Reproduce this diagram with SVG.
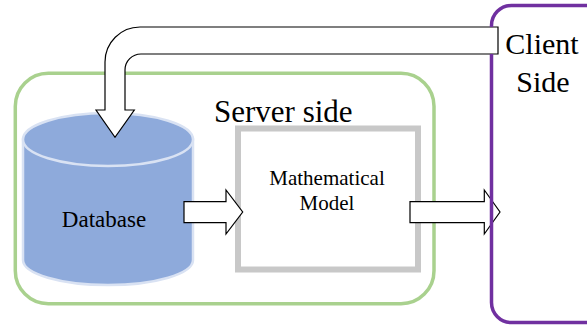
<svg xmlns="http://www.w3.org/2000/svg" width="587" height="326" viewBox="0 0 587 326">
<style>
text{font-family:"Liberation Serif","Times New Roman",serif;fill:#000}
.arrow{fill:#fff;stroke:#000;stroke-width:1.2;stroke-linejoin:miter}
.cyl{fill:#8eaadb;stroke:#d9e2f3;stroke-width:2.5}
</style>
<rect width="587" height="326" fill="#fff"/>
<g id="server">
<rect x="15.3" y="73.3" width="418.7" height="230.4" rx="33" ry="33" fill="none" stroke="#a9d18e" stroke-width="3.5"/>
<text x="214" y="122" font-size="31">Server side</text>
</g>
<g id="database">
<path class="cyl" d="M23 139.5 V260 A85 25 0 0 0 193 260 V139.5 Z"/>
<ellipse class="cyl" cx="108" cy="139.5" rx="85" ry="26.5"/>
<text x="104" y="227" font-size="23" text-anchor="middle">Database</text>
</g>
<g id="model">
<rect x="238" y="128.5" width="180" height="141" fill="#fff" stroke="#c8c8c8" stroke-width="6"/>
<text x="327" y="185" font-size="21" text-anchor="middle">Mathematical</text>
<text x="327" y="210" font-size="21" text-anchor="middle">Model</text>
</g>
<g id="connectors">
<path class="arrow" d="M184 201.7 H226 V190 L242.7 212 L226 234 V222.7 H184 Z"/>
<path class="arrow" d="M410 201.7 H484.3 V190 L500 212 L484.3 234 V222.7 H410 Z"/>
<path class="arrow" d="M498 27 H140 A35 35 0 0 0 105 62 V110 H96 L115 137.3 L134.3 110 H125 V70 A16 16 0 0 1 141 54 H498 Z"/>
</g>
<g id="client">
<path d="M620 5.5 H511.5 A20 20 0 0 0 491.5 25.5 V27 M491.5 54 V302.5 A20 20 0 0 0 511.5 322.5 H620" fill="none" stroke="#7030a0" stroke-width="3.5"/>
<text x="542" y="54" font-size="30" text-anchor="middle">Client</text>
<text x="543" y="92" font-size="30" text-anchor="middle">Side</text>
</g>
</svg>
